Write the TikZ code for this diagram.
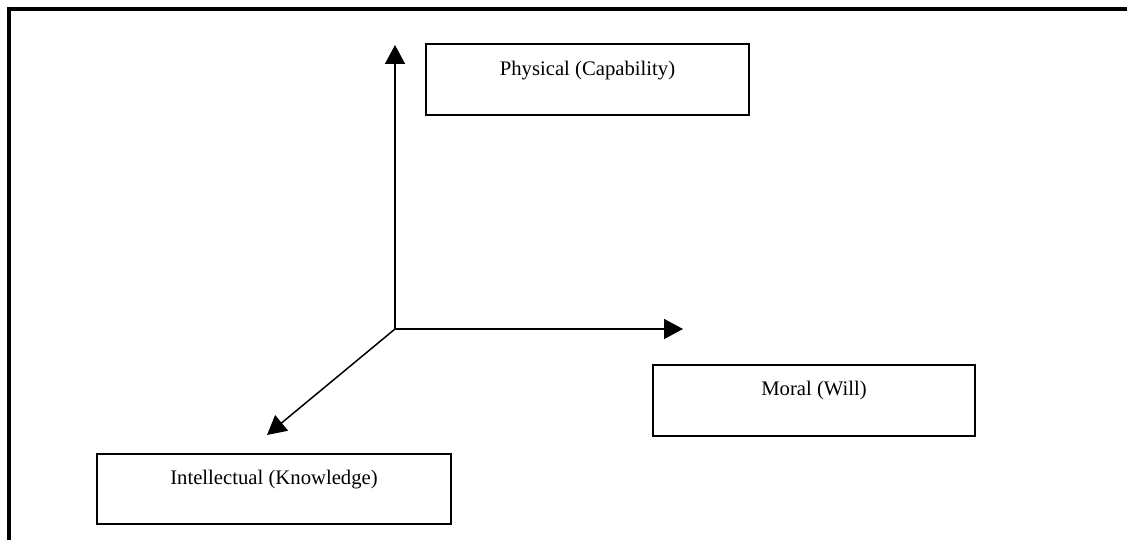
\documentclass[tikz,border=0pt]{standalone}
\usepackage{fontspec}
\setmainfont{Liberation Serif}
\usetikzlibrary{arrows.meta}
\begin{document}
\begin{tikzpicture}[x=1pt,y=-1pt,
  box/.style={draw,line width=1.5pt,rectangle,inner sep=0pt},
  lbl/.style={anchor=base,inner sep=0pt,font=\fontsize{20.7}{24}\selectfont},
  axis/.style={line width=1.5pt,-{Triangle[length=19pt,width=20pt]}}]
\useasboundingbox (0,0) rectangle (1127,540);
\draw[line width=4pt] (8.7,540) -- (8.7,8.7) -- (1127,8.7);
\node[box,minimum width=323pt,minimum height=71pt] (phys) at (587.5,79.5) {};
\node[lbl] (physl) at ([yshift=-32.7pt]phys.north) {Physical (Capability)};
\node[box,minimum width=322pt,minimum height=71pt] (moral) at (814,400.5) {};
\node[lbl] (morall) at ([yshift=-31.7pt]moral.north) {Moral (Will)};
\node[box,minimum width=354pt,minimum height=70pt] (intel) at (274,489) {};
\node[lbl] (intell) at ([yshift=-31pt]intel.north) {Intellectual (Knowledge)};
\coordinate (o) at (395,329);
\coordinate (up) at (395,45);
\coordinate (rt) at (683,329);
\coordinate (dl) at (267,435);
\draw[axis] (o) -- (up);
\draw[axis] (o) -- (rt);
\draw[axis] (o) -- (dl);
\end{tikzpicture}
\end{document}
